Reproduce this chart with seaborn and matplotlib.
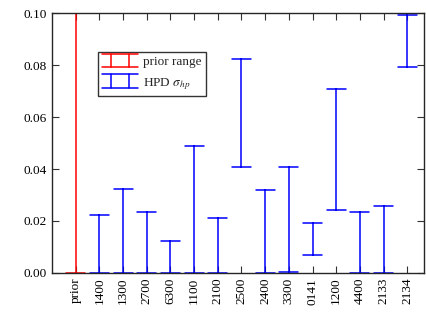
import pandas as pd
import seaborn as sns
import matplotlib.pyplot as plt
from matplotlib.lines import Line2D
from matplotlib.legend_handler import HandlerBase

# values
labels = ["prior", "1400", "1300", "2700", "6300", "1100", "2100", "2500",
          "2400", "3300", "0141", "1200", "4400", "2133", "2134"]
lower = [0.0, 0.0, 0.0, 0.0, 0.0, 0.0, 0.0, 0.0409,
         0.0, 0.0003, 0.0070, 0.0242, 0.0, 0.0, 0.0793]
upper = [0.100, 0.0222, 0.0323, 0.0233, 0.0124, 0.0488, 0.0210, 0.0823,
         0.0320, 0.0406, 0.0192, 0.0709, 0.0235, 0.0257, 0.0993]
kind = ["prior range"] + ["HPD"] * (len(labels) - 1)

rows = []
for lab, lo, hi, k in zip(labels, lower, upper, kind):
    rows.append({"sample": lab, "sigma": lo, "kind": k})
    rows.append({"sample": lab, "sigma": hi, "kind": k})
df = pd.DataFrame(rows)


class LadderHandler(HandlerBase):
    # gnuplot style errorbar key sample: two rails, two rungs
    def create_artists(self, legend, orig, xd, yd, width, height, fontsize, trans):
        c = orig.get_color()
        lw = orig.get_linewidth()
        top, bot = yd + height * 1.25, yd - height * 0.25
        arts = [Line2D([xd, xd + width], [top, top], color=c, lw=lw),
                Line2D([xd, xd + width], [bot, bot], color=c, lw=lw)]
        for f in (0.25, 0.75):
            x = xd + width * f
            arts.append(Line2D([x, x], [bot, top], color=c, lw=lw))
        for a in arts:
            a.set_transform(trans)
        return arts


sns.set_style("ticks")
plt.rcParams["font.family"] = ["Liberation Serif", "DejaVu Serif"]
plt.rcParams["mathtext.fontset"] = "stix"

fig, ax = plt.subplots(figsize=(4.26, 3.13), dpi=100)
fig.subplots_adjust(left=0.122, right=0.995, top=0.958, bottom=0.128)

sns.pointplot(data=df, x="sample", y="sigma", hue="kind", order=labels,
              palette={"prior range": "#ff0000", "HPD": "#0000ff"},
              errorbar=("pi", 100), capsize=0.8, marker="none",
              linestyle="none", dodge=False, legend=False,
              err_kws={"linewidth": 1.1}, ax=ax)

ax.set_xlim(-1, 14.7)
ax.set_ylim(0, 0.1)
ax.set_yticks([0, 0.02, 0.04, 0.06, 0.08, 0.10])
ax.set_yticklabels(["0.00", "0.02", "0.04", "0.06", "0.08", "0.10"])
ax.set_xlabel("")
ax.set_ylabel("")
ax.tick_params(axis="both", direction="in", length=5, width=0.8,
               top=True, right=True, labelsize=9.5, colors="#333333",
               labelcolor="black")
ax.tick_params(axis="x", labelrotation=90)
for s in ax.spines.values():
    s.set_visible(True)
    s.set_linewidth(1.0)

handles = [Line2D([0], [0], color="#ff0000", lw=1.1),
           Line2D([0], [0], color="#0000ff", lw=1.1)]
leg = ax.legend(handles, ["prior range", r"HPD $\sigma_{hp}$"],
                handler_map={Line2D: LadderHandler()},
                loc="upper left", bbox_to_anchor=(0.124, 0.852), fontsize=9.5,
                frameon=True, fancybox=False, handlelength=2.7,
                borderpad=0.33, labelspacing=0.6, handletextpad=0.35,
                borderaxespad=0)
leg.get_frame().set_edgecolor("black")
leg.get_frame().set_linewidth(1.0)

plt.savefig("out.png", dpi=100)
